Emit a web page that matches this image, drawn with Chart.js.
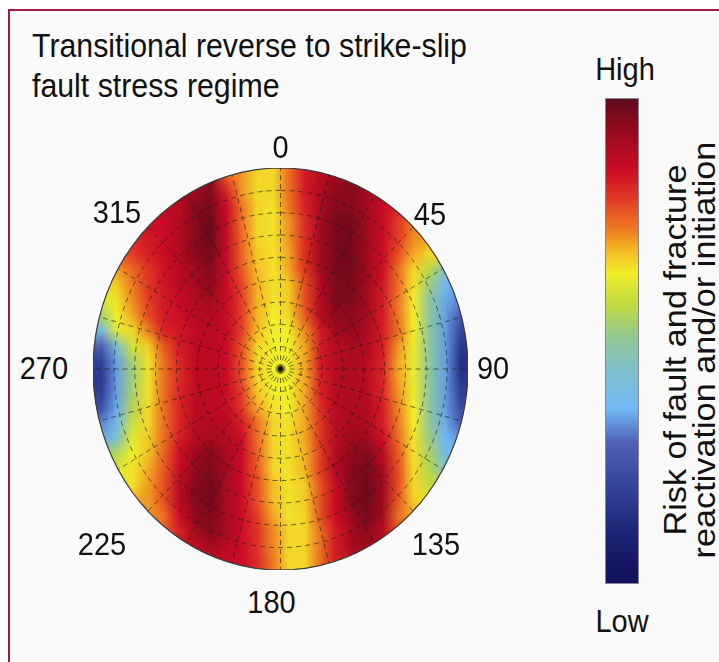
<!DOCTYPE html>
<html><head><meta charset="utf-8">
<script src="https://cdn.jsdelivr.net/npm/chart.js@4.4.1/dist/chart.umd.min.js"></script>
<style>
html,body{margin:0;padding:0;background:#fff;width:719px;height:662px;overflow:hidden;font-family:"Liberation Sans",Arial,sans-serif;color:#111;}
#frame{position:absolute;left:8px;top:9px;width:760px;height:700px;border-left:2px solid #9a1f47;border-top:2px solid #9a1f47;background:#fafafa;}
.lbl{position:absolute;font-size:29px;line-height:29px;white-space:nowrap;transform:translate(-50%,-50%) scale(1,1.07);}
#title{position:absolute;left:32px;top:26px;font-size:30.3px;line-height:37px;white-space:nowrap;transform-origin:0 0;transform:scale(1,1.07);}
#heatWrap{position:absolute;left:93px;top:168px;width:375px;height:402px;clip-path:ellipse(50% 50% at 50% 50%);}
#overlay{position:absolute;left:83px;top:158px;}
#cbar{position:absolute;left:605px;top:98px;}
#caption{position:absolute;left:690px;top:350px;font-size:32px;line-height:29px;white-space:nowrap;text-align:center;transform:translate(-50%,-50%) scale(1,1.07) rotate(-90deg);}
</style></head><body>
<div id="frame"></div>
<div id="title">Transitional reverse to strike-slip<br>fault stress regime</div>
<div id="heatWrap"><canvas id="heat" width="24" height="26" style="width:375px;height:402px;"></canvas></div>
<canvas id="overlay" width="395" height="422" style="width:395px;height:422px;"></canvas>
<canvas id="cbar" width="34" height="486" style="width:34px;height:486px;"></canvas>
<div class="lbl" id="high" style="left:625px;top:70px;">High</div>
<div class="lbl" id="low" style="left:622px;top:622px;">Low</div>
<div id="caption">Risk of fault and fracture<br>reactivation and/or initiation</div>
<script>
// ---------- DATA ----------
// azimuth tick labels (degrees)
const azimuthTicks = [0, 45, 90, 135, 180, 225, 270, 315];
// grid: dip rings (degrees) and spoke azimuths (degrees)
const ringDips = [10, 20, 30, 40, 50, 60, 70, 80];
const spokeAzimuths = [0, 15, 30, 45, 60, 75, 90, 105, 120, 135, 150, 165, 180, 195, 210, 225, 240, 255, 270, 285, 300, 315, 330, 345];
// colour scale: relative risk (0 = Low, 100 = High)
const cmapStops  = [0, 10, 22, 29, 36, 45, 51, 57, 64, 69, 73, 79, 85, 93, 100];
const cmapColors = ['#10105a','#1c2274','#384aa0','#5060b4','#70b8f6','#80c0c4','#94c890','#bcd844','#f2ee2a','#f4b424','#ee7a22','#e23c24','#cc0c26','#980a1e','#5c0a1a'];
// relative risk read from the stereonet, rows top (north) to bottom (south), 24 columns west to east
const riskRows = [
 [92,92,92,92,92,92,92,94,76,71,66,66,74,83,88,92,94,94,94,94,94,94,94,94],
 [92,92,92,92,92,92,92,95,82,71,66,66,74,83,89,94,95,91,91,91,91,91,91,91],
 [88,88,88,88,88,88,95,97,85,74,66,65,73,82,90,95,95,91,85,82,82,82,82,82],
 [85,85,85,85,85,89,95,98,86,74,66,65,71,81,91,97,97,92,86,79,73,73,73,73],
 [82,82,82,83,85,89,95,98,86,75,66,65,71,81,91,97,97,92,86,79,72,70,70,70],
 [76,76,79,83,85,89,95,97,86,75,67,65,70,81,91,97,97,92,85,77,70,66,64,64],
 [68,71,75,80,84,88,92,95,86,76,68,65,70,80,91,97,97,92,85,74,66,57,45,40],
 [66,67,73,80,84,88,91,94,86,78,69,65,67,77,89,96,96,92,84,74,65,52,37,34],
 [62,65,72,79,83,86,89,92,86,79,69,65,67,77,89,96,96,91,83,73,64,49,35,32],
 [54,64,70,78,83,85,88,89,86,79,69,64,66,76,88,94,94,91,83,73,64,49,34,27],
 [40,62,66,73,82,84,87,88,86,79,68,64,64,72,83,92,93,90,83,74,64,49,34,21],
 [28,42,60,67,76,83,87,88,85,77,66,64,64,70,83,88,91,89,83,71,63,49,34,17],
 [20,34,54,65,74,82,87,88,85,77,66,64,64,70,83,88,90,88,82,70,63,49,34,14],
 [17,34,53,65,74,81,87,88,85,77,66,64,64,70,82,88,90,88,82,70,63,49,34,16],
 [19,34,54,65,74,82,87,88,86,79,67,64,64,70,82,88,90,88,82,71,63,49,34,19],
 [24,35,56,66,74,82,88,88,86,80,70,65,64,70,81,88,90,89,83,72,64,49,34,23],
 [32,39,59,66,74,82,88,89,88,83,74,66,65,70,80,88,91,90,83,73,64,50,35,28],
 [35,45,62,67,74,83,89,91,89,85,74,66,65,70,80,88,92,92,85,74,65,52,36,34],
 [52,56,64,68,75,85,92,95,91,85,75,66,65,69,79,89,94,96,88,76,65,54,39,39],
 [59,62,65,70,76,86,94,96,91,85,76,66,65,69,79,89,95,97,91,77,66,56,45,45],
 [65,65,65,71,77,88,95,97,91,85,77,68,65,67,77,86,95,98,92,77,66,58,58,58],
 [70,70,70,71,77,88,95,97,91,85,77,68,65,67,77,86,95,98,92,76,67,64,64,64],
 [71,71,71,71,74,85,94,96,91,85,79,70,65,66,77,85,93,97,91,74,70,70,70,70],
 [76,76,76,76,76,82,91,95,91,85,80,72,66,66,74,83,91,94,88,77,77,77,77,77],
 [86,86,86,86,86,86,86,91,88,85,80,72,66,66,74,83,91,92,92,92,92,92,92,92],
 [86,86,86,86,86,86,86,86,86,85,81,73,66,66,74,83,83,83,83,83,83,83,83,83]
];

// ---------- helpers ----------
function hexToRgb(h){return [parseInt(h.slice(1,3),16),parseInt(h.slice(3,5),16),parseInt(h.slice(5,7),16)];}
const cmapRgb = cmapColors.map(hexToRgb);
function colorFor(v){
  if (v <= cmapStops[0]) return cmapColors[0];
  for (let i = 1; i < cmapStops.length; i++) {
    if (v <= cmapStops[i]) {
      const t = (v - cmapStops[i-1]) / (cmapStops[i] - cmapStops[i-1]);
      const a = cmapRgb[i-1], b = cmapRgb[i];
      return 'rgb(' + a.map((c,k)=>Math.round(c + (b[k]-c)*t)).join(',') + ')';
    }
  }
  return cmapColors[cmapColors.length-1];
}
const rad = d => d * Math.PI / 180;

// ---------- heat map (one stacked bar segment per cell) ----------
const nRows = riskRows.length;
const colLabels = riskRows[0].map((_, j) => 'c' + j);
new Chart(document.getElementById('heat'), {
  type: 'bar',
  data: {
    labels: colLabels,
    datasets: riskRows.map((row, i) => ({
      label: 'row' + i,
      data: row.map(() => 1),
      backgroundColor: row.map(colorFor),
      borderWidth: 0,
      inflateAmount: 0,
      barPercentage: 1,
      categoryPercentage: 1
    }))
  },
  options: {
    responsive: false, devicePixelRatio: 1, animation: false, events: [],
    layout: { padding: 0 },
    plugins: { legend: { display: false }, tooltip: { enabled: false } },
    scales: {
      x: { display: false, stacked: true },
      y: { display: false, stacked: true, reverse: true, min: 0, max: nRows }
    }
  }
});

// ---------- grid overlay ----------
const lineCol = 'rgba(25,25,25,0.6)';
function circlePts(r){ const p=[]; for(let a=0;a<=360;a+=4){ p.push({x:r*Math.sin(rad(a)), y:r*Math.cos(rad(a))}); } return p; }
const overlaySets = [];
ringDips.forEach(d => overlaySets.push({ data: circlePts(d/90), showLine: true, borderColor: lineCol, borderWidth: 1, borderDash: [5,4], pointRadius: 0 }));
spokeAzimuths.forEach(a => overlaySets.push({ data: [{x:0,y:0},{x:Math.sin(rad(a)), y:Math.cos(rad(a))}], showLine: true, borderColor: lineCol, borderWidth: 1, borderDash: [5,4], pointRadius: 0 }));
overlaySets.push({ data: circlePts(1), showLine: true, borderColor: '#3a3a3a', borderWidth: 1.2, pointRadius: 0 });
overlaySets.push({ data: [{x:0,y:0}], pointRadius: 2.6, pointBackgroundColor: '#000', pointBorderWidth: 0 });
const overlay = new Chart(document.getElementById('overlay'), {
  type: 'scatter',
  data: { datasets: overlaySets },
  options: {
    responsive: false, devicePixelRatio: 1, animation: false, events: [],
    layout: { padding: 10 },
    elements: { line: { tension: 0, fill: false } },
    plugins: { legend: { display: false }, tooltip: { enabled: false } },
    scales: {
      x: { type: 'linear', display: false, min: -1, max: 1 },
      y: { type: 'linear', display: false, min: -1, max: 1 }
    }
  }
});

// azimuth labels placed through the overlay scales
const labelSpots = { 0:[0,1.10], 45:[0.797,0.766], 90:[1.134,0], 135:[0.829,-0.876], 180:[-0.048,-1.164], 225:[-0.952,-0.876], 270:[-1.262,0], 315:[-0.872,0.776] };
const ovEl = document.getElementById('overlay');
azimuthTicks.forEach(t => {
  const s = labelSpots[t];
  const d = document.createElement('div');
  d.className = 'lbl';
  d.textContent = String(t);
  d.style.left = (ovEl.offsetLeft + overlay.scales.x.getPixelForValue(s[0])) + 'px';
  d.style.top = (ovEl.offsetTop + overlay.scales.y.getPixelForValue(s[1])) + 'px';
  document.body.appendChild(d);
});

// ---------- colour bar ----------
new Chart(document.getElementById('cbar'), {
  type: 'bar',
  data: { labels: ['risk'], datasets: [{
    data: [100],
    backgroundColor: (ctx) => {
      const area = ctx.chart.chartArea;
      if (!area) return cmapColors[8];
      const g = ctx.chart.ctx.createLinearGradient(0, area.bottom, 0, area.top);
      cmapStops.forEach((s, i) => g.addColorStop(s / 100, cmapColors[i]));
      return g;
    },
    borderColor: '#8c8498', borderWidth: 1, borderSkipped: false, inflateAmount: 0,
    barPercentage: 1, categoryPercentage: 1
  }]},
  options: {
    responsive: false, devicePixelRatio: 1, animation: false, events: [],
    layout: { padding: 0 },
    plugins: { legend: { display: false }, tooltip: { enabled: false } },
    scales: { x: { display: false }, y: { display: false, min: 0, max: 100 } }
  }
});
</script>
</body></html>
